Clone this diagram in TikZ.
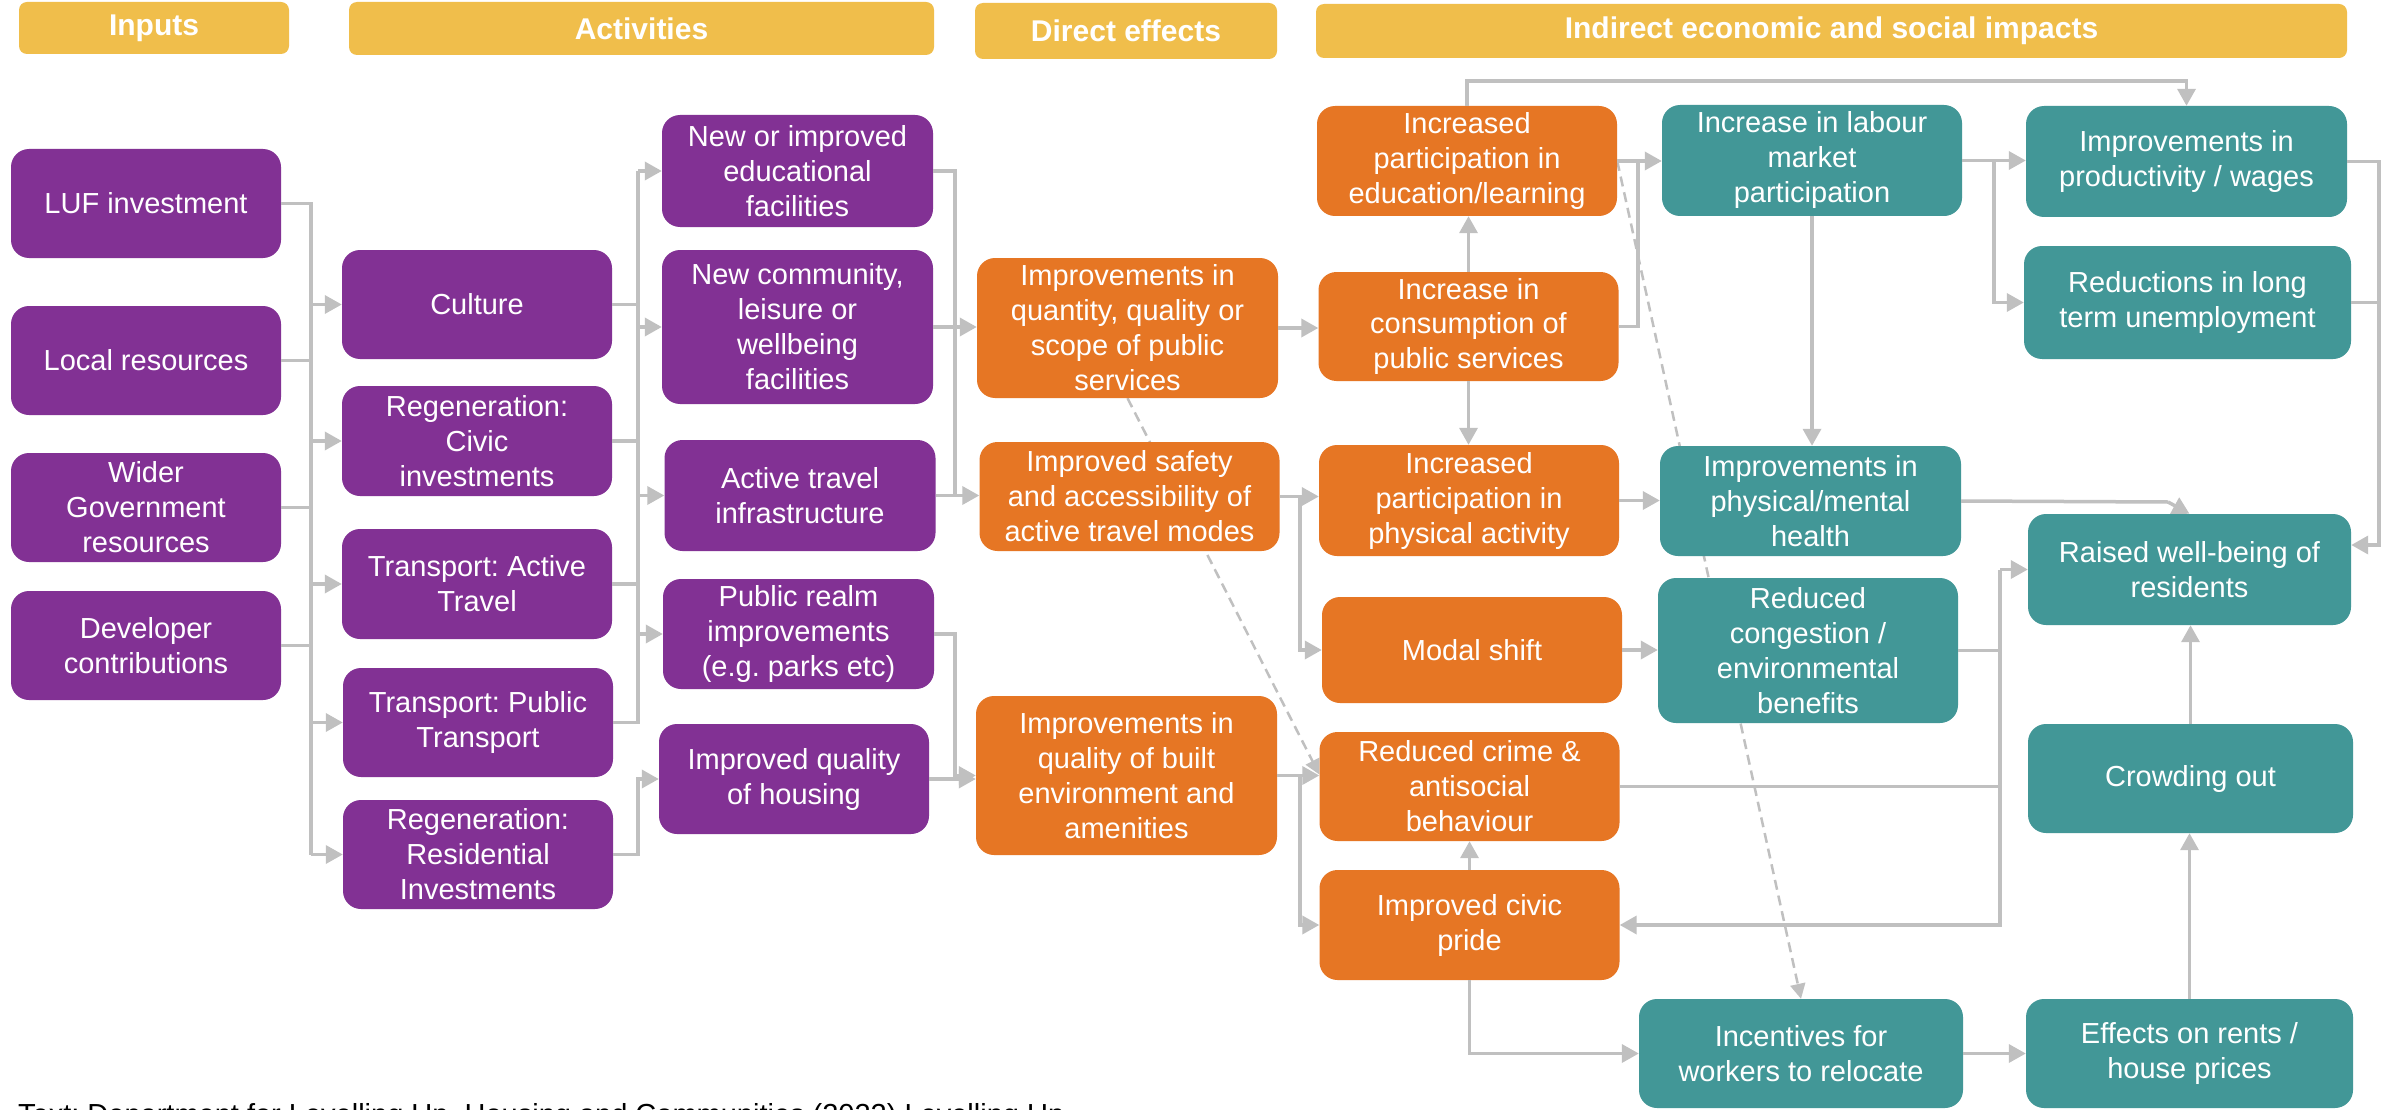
\documentclass[tikz,border=0pt]{standalone}
\usepackage{fontspec}
\setmainfont{Liberation Sans}
\usetikzlibrary{arrows.meta,calc,backgrounds}
\definecolor{cpurple}{HTML}{823194}
\definecolor{corange}{HTML}{E67624}
\definecolor{cteal}{HTML}{429797}
\definecolor{cgold}{HTML}{F0BE4B}
\definecolor{cline}{HTML}{C0C0C0}
\begin{document}
\frenchspacing
\begin{tikzpicture}[x=1pt,y=-1pt,
  box/.style={rounded corners=18pt, inner sep=0pt, align=center, text=white, font=\fontsize{29}{35}\selectfont},
  pbox/.style={box, fill=cpurple},
  obox/.style={box, fill=corange},
  tbox/.style={box, fill=cteal},
  hdr/.style={rounded corners=8pt, fill=cgold, inner sep=0pt, text=white, font=\fontsize{30}{36}\selectfont\bfseries},
  conn/.style={draw=cline, line width=3.5pt},
  arr/.style={conn, -{Triangle[length=17pt,width=18pt]}},
  dsh/.style={draw=cline, line width=2.5pt, dash pattern=on 10pt off 6pt, -{Triangle[length=15pt,width=15pt]}},
]
\useasboundingbox (0,0) rectangle (2382,1110);
\clip (0,0) rectangle (2382,1110);

% headers
\node[hdr, minimum width=270pt, minimum height=52pt] (hIn) at (154,28) {Inputs};
\node[hdr, minimum width=585pt, minimum height=53pt] (hAct) at (641.5,28.5) {Activities};
\node[hdr, minimum width=302pt, minimum height=56pt] (hDir) at (1126,31) {Direct effects};
\node[hdr, minimum width=1031pt, minimum height=54pt] (hInd) at (1831.5,31) {Indirect economic and social impacts};

% inputs
\node[pbox, minimum width=270pt, minimum height=109pt] (luf) at (146,203.5) {LUF investment};
\node[pbox, minimum width=270pt, minimum height=109pt] (local) at (146,360.5) {Local resources};
\node[pbox, minimum width=270pt, minimum height=109pt] (wider) at (146,507.5) {Wider\\Government\\resources};
\node[pbox, minimum width=270pt, minimum height=109pt] (dev) at (146,645.5) {Developer\\contributions};

% activities left
\node[pbox, minimum width=270pt, minimum height=109pt] (culture) at (477,304.5) {Culture};
\node[pbox, minimum width=270pt, minimum height=110pt] (regciv) at (477,441) {Regeneration:\\Civic\\investments};
\node[pbox, minimum width=270pt, minimum height=110pt] (tra) at (477,584) {Transport: Active\\Travel};
\node[pbox, minimum width=270pt, minimum height=109pt] (trp) at (478,722.5) {Transport: Public\\Transport};
\node[pbox, minimum width=270pt, minimum height=109pt] (regres) at (478,854.5) {Regeneration:\\Residential\\Investments};

% activities right
\node[pbox, minimum width=271pt, minimum height=112pt] (edu) at (797.5,171) {New or improved\\educational\\facilities};
\node[pbox, minimum width=271pt, minimum height=154pt] (comm) at (797.5,327) {New community,\\leisure or\\wellbeing\\facilities};
\node[pbox, minimum width=271pt, minimum height=111pt] (atinf) at (800,495.5) {Active travel\\infrastructure};
\node[pbox, minimum width=271pt, minimum height=110pt] (prealm) at (798.5,634) {Public realm\\improvements\\(e.g. parks etc)};
\node[pbox, minimum width=270pt, minimum height=110pt] (housing) at (794,779) {Improved quality\\of housing};

% direct effects
\node[obox, minimum width=301pt, minimum height=140pt] (quant) at (1127.5,328) {Improvements in\\quantity, quality or\\scope of public\\services};
\node[obox, minimum width=300pt, minimum height=109pt] (safety) at (1129.5,496.5) {Improved safety\\and accessibility of\\active travel modes};
\node[obox, minimum width=301pt, minimum height=159pt] (built) at (1126.5,775.5) {Improvements in\\quality of built\\environment and\\amenities};

% column 5 (orange)
\node[obox, minimum width=300pt, minimum height=110pt] (eduLearn) at (1467,161) {Increased\\participation in\\education/learning};
\node[obox, minimum width=300pt, minimum height=109pt] (consum) at (1468.5,326.5) {Increase in\\consumption of\\public services};
\node[obox, minimum width=300pt, minimum height=111pt] (physAct) at (1469,500.5) {Increased\\participation in\\physical activity};
\node[obox, minimum width=300pt, minimum height=106pt] (modal) at (1472,650) {Modal shift};
\node[obox, minimum width=300pt, minimum height=109pt] (crime) at (1469.5,786.5) {Reduced crime \&\\antisocial\\behaviour};
\node[obox, minimum width=300pt, minimum height=110pt] (civic) at (1469.5,925) {Improved civic\\pride};

% column 6 (teal)
\node[tbox, minimum width=300pt, minimum height=111pt] (labour) at (1812,160.5) {Increase in labour\\market\\participation};
\node[tbox, minimum width=301pt, minimum height=110pt] (physMent) at (1810.5,501) {Improvements in\\physical/mental\\health};
\node[tbox, minimum width=300pt, minimum height=145pt] (congest) at (1808,650.5) {Reduced\\congestion /\\environmental\\benefits};
\node[tbox, minimum width=324pt, minimum height=109pt] (incent) at (1801,1053.5) {Incentives for\\workers to relocate};

% column 7 (teal)
\node[tbox, minimum width=321pt, minimum height=111pt] (prod) at (2186.5,161.5) {Improvements in\\productivity / wages};
\node[tbox, minimum width=327pt, minimum height=113pt] (reduct) at (2187.5,302.5) {Reductions in long\\term unemployment};
\node[tbox, minimum width=323pt, minimum height=111pt] (wellb) at (2189.5,569.5) {Raised well-being of\\residents};
\node[tbox, minimum width=325pt, minimum height=109pt] (crowd) at (2190.5,778.5) {Crowding out};
\node[tbox, minimum width=327pt, minimum height=109pt] (effects) at (2189.5,1053.5) {Effects on rents /\\house prices};

% footer (cut off at bottom edge, as in the reference)
\node[anchor=base west, inner sep=0pt, font=\fontsize{29}{35}\selectfont, text=black] (foot) at (18,1124) {Text: Department for Levelling Up, Housing and Communities (2022) Levelling Up};

% bus coordinates
\coordinate (bA) at (311,0);
\coordinate (bB) at (638,0);
\coordinate (bC) at (955,0);
\coordinate (bD) at (1300,0);
\coordinate (bE) at (1638,0);
\coordinate (bF) at (1994,0);
\coordinate (bG) at (2000,0);
\coordinate (bH) at (2379,0);
\coordinate (topY) at (0,81);
\coordinate (pmTurn) at (2168,502);
\coordinate (wR) at ($(wellb.east)+(0,-24.5)$);

% inputs -> activities
\draw[conn] (luf.east) -| (bA |- regres.west);
\draw[conn] (local.east) -- (local.east -| bA);
\draw[conn] (wider.east) -- (wider.east -| bA);
\draw[conn] (dev.east) -- (dev.east -| bA);
\draw[arr] (bA |- culture.west) -- (culture.west);
\draw[arr] (bA |- regciv.west) -- (regciv.west);
\draw[arr] (bA |- tra.west) -- (tra.west);
\draw[arr] (bA |- trp.west) -- (trp.west);
\draw[arr] (bA |- regres.west) -- (regres.west);

% activities left -> right
\draw[conn] (culture.east) -- (culture.east -| bB);
\draw[conn] (regciv.east) -- (regciv.east -| bB);
\draw[conn] (tra.east) -- (tra.east -| bB);
\draw[conn] (trp.east) -| (bB |- edu.west);
\draw[arr] (bB |- edu.west) -- (edu.west);
\draw[arr] (bB |- comm.west) -- (comm.west);
\draw[arr] (bB |- atinf.west) -- (atinf.west);
\draw[arr] (bB |- prealm.west) -- (prealm.west);
\draw[arr] (regres.east) -- (regres.east -| bB) -- (bB |- housing.west) -- (housing.west);

% activities -> direct effects
\draw[conn] (edu.east) -| (bC |- safety.west);
\draw[arr] (comm.east) -- (comm.east -| quant.west);
\draw[arr] (atinf.east) -- (atinf.east -| safety.west);
\draw[arr] (prealm.east) -| (bC |- built.west) -- (built.west);
\draw[arr] (housing.east) -- (housing.east -| built.west);

% direct effects -> column 5
\draw[arr] (quant.east) -- (quant.east -| consum.west);
\draw[arr] (safety.east) -- (safety.east -| physAct.west);
\draw[arr] (safety.east -| bD) |- (modal.west);
\draw[arr] (built.east) -- (built.east -| crime.west);
\draw[arr] (built.east -| bD) |- (civic.west);

% column 5 internal and onward
\draw[arr] (consum.north) -- (consum.north |- eduLearn.south);
\draw[arr] (consum.south) -- (consum.south |- physAct.north);
\draw[arr] (civic.north) -- (civic.north |- crime.south);
\draw[arr] (civic.south) |- (incent.west);
\draw[arr] (eduLearn.north) |- (prod.north |- topY) -- (prod.north);
\draw[arr] (eduLearn.east) -- (eduLearn.east -| labour.west);
\draw[conn] (consum.east) -| (bE |- eduLearn.east);
\draw[arr] (physAct.east) -- (physAct.east -| physMent.west);
\draw[arr] (modal.east) -- (modal.east -| congest.west);
\draw[conn] (congest.east) -- (congest.east -| bG);
\draw[conn] (crime.east) -- (crime.east -| bG);
\draw[arr] (bG |- wellb.west) -- (wellb.west);
\draw[arr] (bG |- wellb.west) |- (civic.east);

% column 6 / 7
\draw[arr] (labour.south) -- (labour.south |- physMent.north);
\draw[arr] (labour.east) -- (labour.east -| prod.west);
\draw[arr] (labour.east -| bF) |- (reduct.west);
\draw[conn] (physMent.east) -- (pmTurn);
\draw[arr] (pmTurn) -- (wellb.north);
\draw[arr] (prod.east) -| (bH |- wR) -- (wR);
\draw[conn] (reduct.east) -- (reduct.east -| bH);
\draw[arr] (crowd.north) -- (crowd.north |- wellb.south);
\draw[arr] (effects.north) -- (effects.north |- crowd.south);
\draw[arr] (incent.east) -- (incent.east -| effects.west);

% background: white page and dashed links behind boxes
\begin{scope}[on background layer]
\fill[white] (0,0) rectangle (2382,1110);
\draw[dsh] (quant.south) -- ($(crime.west)+(0,-12)$);
\draw[dsh] (eduLearn.east) -- (incent.north);
\end{scope}
\end{tikzpicture}
\end{document}
